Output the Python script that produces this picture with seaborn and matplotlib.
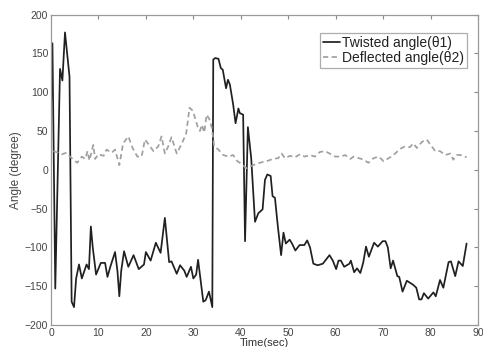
import numpy as np
import pandas as pd
import matplotlib
matplotlib.use("Agg")
import matplotlib.pyplot as plt
import seaborn as sns

# Twisted angle (theta1)
t1 = [0.0, 0.3, 0.9, 1.9, 2.4, 2.95, 3.9, 4.35, 4.85, 5.3, 5.9, 6.5, 7.5, 8.0, 8.4, 8.8,
      9.5, 10.5, 11.4, 11.9, 12.5, 13.5, 14.0, 14.4, 14.8, 15.4, 16.3, 17.4, 18.5, 19.6,
      20.0, 21.0, 22.1, 23.1, 24.0, 24.9, 25.4, 26.5, 27.2, 28.1, 28.6, 29.5, 30.0, 30.6,
      31.0, 32.1, 32.6, 33.3, 34.0, 34.2, 34.6, 35.3, 35.8, 36.2, 36.9, 37.3, 37.7, 38.4,
      38.9, 39.5, 39.8, 40.5, 40.9, 41.5, 42.2, 43.0, 43.7, 44.6, 45.1, 45.6, 46.3, 46.7,
      47.2, 47.8, 48.5, 49.0, 49.5, 50.3, 50.8, 51.5, 52.4, 53.4, 54.0, 54.6, 55.3, 56.2,
      57.3, 58.7, 59.4, 60.1, 60.6, 61.1, 61.8, 62.9, 63.2, 63.9, 64.5, 65.2, 65.8, 66.4,
      67.0, 68.1, 68.9, 69.9, 70.5, 71.0, 71.6, 72.1, 73.0, 73.4, 74.1, 75.0, 76.3, 77.0,
      77.6, 78.1, 78.6, 79.5, 80.6, 81.1, 82.0, 82.7, 83.8, 84.3, 85.2, 85.9, 86.8, 87.6]
v1 = [80, 163, -153, 130, 115, 177, 120, -170, -177, -140, -122, -140, -122, -128, -73, -100,
      -135, -120, -120, -138, -125, -106, -130, -163, -130, -105, -125, -110, -128, -122,
      -106, -117, -94, -107, -62, -119, -118, -134, -123, -130, -138, -125, -140, -135,
      -116, -170, -168, -157, -177, 142, 144, 143, 131, 129, 105, 116, 110, 84,
      60, 79, 73, 71, -92, 55, 15, -67, -56, -51, -13, -6, -8, -34,
      -36, -72, -110, -81, -95, -90, -95, -104, -97, -97, -91, -100, -121, -123,
      -121, -110, -117, -128, -117, -117, -125, -121, -117, -132, -127, -133, -120, -99,
      -112, -94, -99, -92, -92, -100, -127, -117, -137, -138, -157, -143, -148, -152,
      -167, -167, -159, -166, -158, -163, -142, -152, -119, -118, -137, -118, -124, -95]

# Deflected angle (theta2)
t2 = [0.5, 1.5, 2.3, 3.3, 4.0, 5.5, 6.5, 7.2, 7.7, 8.1, 8.9, 9.3, 10.0, 11.1, 11.7, 12.8,
      13.5, 14.4, 15.2, 16.3, 17.2, 18.2, 19.1, 19.8, 20.9, 21.6, 22.6, 23.3, 24.0, 24.7,
      25.4, 26.5, 27.6, 28.5, 29.2, 29.9, 30.4, 31.0, 31.4, 31.8, 32.3, 32.8, 33.4, 33.9,
      34.4, 35.3, 36.3, 37.4, 38.4, 39.3, 39.8, 41.2, 42.6, 44.0, 45.4, 46.8, 47.9, 48.6,
      49.3, 50.4, 51.4, 52.5, 53.5, 54.6, 55.6, 56.7, 57.8, 58.7, 59.9, 61.0, 62.0, 63.1,
      63.8, 64.9, 65.9, 66.9, 68.0, 69.1, 70.1, 71.2, 72.2, 73.6, 74.6, 75.6, 76.4, 77.1,
      78.2, 79.2, 79.9, 81.0, 82.0, 83.1, 84.2, 84.8, 85.5, 86.6, 87.6]
v2 = [24, 22, 20, 22, 17, 9, 17, 14, 24, 12, 32, 14, 20, 18, 26, 22,
      26, 6, 34, 43, 28, 17, 17, 39, 30, 24, 30, 43, 21, 30,
      42, 21, 34, 47, 80, 76, 66, 54, 50, 58, 48, 71, 65, 54,
      30, 26, 19, 17, 19, 11, 9, 2, 6, 9, 11, 14, 15, 21,
      15, 18, 16, 20, 17, 19, 17, 23, 24, 21, 17, 17, 19, 14,
      17, 15, 13, 9, 15, 17, 11, 15, 19, 27, 30, 29, 34, 28,
      36, 39, 33, 24, 24, 19, 21, 13, 19, 19, 16]

label1 = "Twisted angle(θ1)"
label2 = "Deflected angle(θ2)"

df = pd.concat([
    pd.DataFrame({"t": t1, "v": v1, "s": label1}),
    pd.DataFrame({"t": t2, "v": v2, "s": label2}),
], ignore_index=True)

sns.set_style("white")
plt.rcParams["font.family"] = ["Liberation Sans", "DejaVu Sans"]

fig = plt.figure(figsize=(4.83, 3.47), dpi=100)
ax = fig.add_axes([0.1056, 0.0634, 0.8840, 0.8946])

sns.lineplot(data=df, x="t", y="v", hue="s", style="s",
             palette={label1: "#202020", label2: "#a0a0a0"},
             dashes={label1: "", label2: (3, 2)},
             sort=False, estimator=None, ax=ax, linewidth=1.25)

ax.set_xlim(0, 90)
ax.set_ylim(-200, 200)
ax.set_xticks(np.arange(0, 91, 10))
ax.set_yticks(np.arange(-200, 201, 50))
ax.tick_params(direction="in", length=3, top=True, right=True, labelsize=7.5,
               colors="#888888", labelcolor="#444444", pad=2)
for sp in ax.spines.values():
    sp.set_color("#999999")
    sp.set_linewidth(0.9)
ax.set_xlabel("Time(sec)", fontsize=8, color="#333333", labelpad=0)
ax.set_ylabel("Angle (degree)", fontsize=8.5, color="#444444", labelpad=2)

leg = ax.legend(loc="upper right", bbox_to_anchor=(0.985, 0.955), fontsize=10,
                frameon=True, fancybox=False, handlelength=1.2, handletextpad=0.15,
                borderpad=0.25, labelspacing=0.05, borderaxespad=0.3)
leg.get_frame().set_edgecolor("#999999")
leg.get_frame().set_linewidth(0.9)
for txt in leg.get_texts():
    txt.set_color("#222222")

fig.savefig("out.png", dpi=100)
